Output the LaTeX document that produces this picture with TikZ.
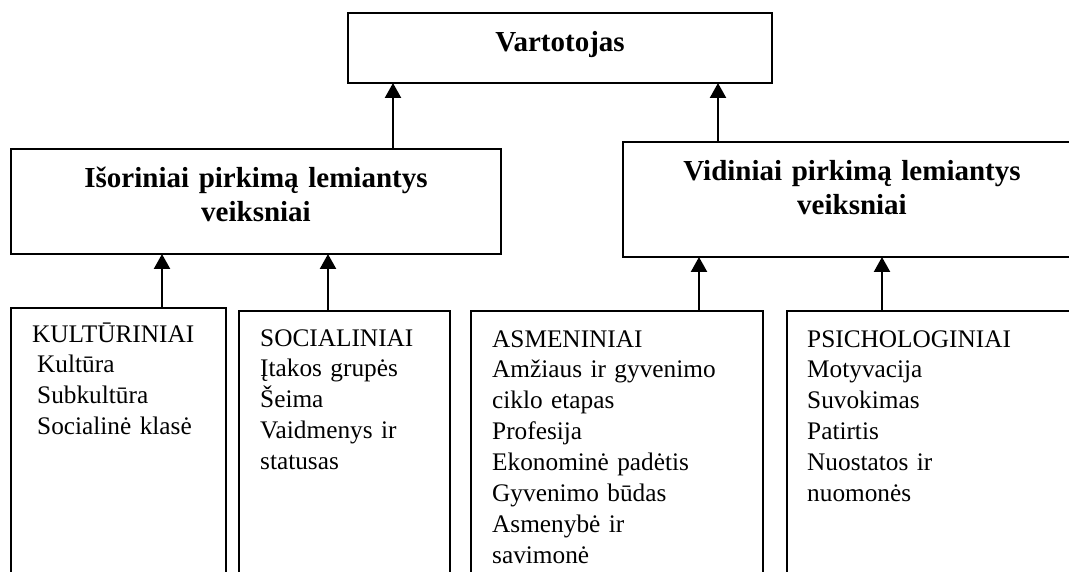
\documentclass[tikz,border=0pt]{standalone}
\usepackage{fontspec}
\setmainfont{Liberation Serif}
\usetikzlibrary{arrows.meta}
\tikzset{
  box/.style={draw, line width=2pt, rectangle, inner sep=0pt, outer sep=0pt, anchor=north west},
  hdr/.style={font=\fontsize{29}{34}\selectfont\bfseries, align=center, inner sep=0pt, anchor=base, text width=460pt},
  lst/.style={font=\fontsize{25.3}{30.9}\selectfont, align=left, inner sep=0pt, anchor=base west, text width=270pt},
  arr/.style={line width=2.3pt, -{Triangle[width=16pt,length=15pt]}},
}
\begin{document}
\begin{tikzpicture}[x=1pt,y=-1pt]
\clip (0,0) rectangle (1069,572);
% boxes
\node[box, minimum width=424pt, minimum height=70pt] (vart) at (348,13) {};
\node[box, minimum width=490pt, minimum height=105pt] (isor) at (11,149) {};
\node[box, minimum width=500pt, minimum height=115pt] (vid) at (623,142) {};
\node[box, minimum width=215pt, minimum height=300pt] (kult) at (11,308) {};
\node[box, minimum width=211pt, minimum height=300pt] (soc) at (239,311) {};
\node[box, minimum width=292pt, minimum height=300pt] (asm) at (471,311) {};
\node[box, minimum width=320pt, minimum height=300pt] (psi) at (787,311) {};
% texts
\node[hdr] (vartT) at ([yshift=-39pt]vart.north) {Vartotojas};
\node[hdr] (isorT) at ([yshift=-39pt]isor.north) {Išoriniai pirkimą lemiantys\\veiksniai};
\node[hdr] (vidT) at ([xshift=229pt,yshift=-39pt]vid.north west) {Vidiniai pirkimą lemiantys\\veiksniai};
\node[lst] (kultT) at ([xshift=21pt,yshift=-34pt]kult.north west)
  {KULTŪRINIAI\\\hspace*{5pt}Kultūra\\\hspace*{5pt}Subkultūra\\\hspace*{5pt}Socialinė klasė};
\node[lst] (socT) at ([xshift=21pt,yshift=-35pt]soc.north west)
  {SOCIALINIAI\\Įtakos grupės\\Šeima\\Vaidmenys ir\\statusas};
\node[lst] (asmT) at ([xshift=21pt,yshift=-36pt]asm.north west)
  {ASMENINIAI\\Amžiaus ir gyvenimo\\ciklo etapas\\Profesija\\Ekonominė padėtis\\Gyvenimo būdas\\Asmenybė ir\\savimonė};
\node[lst] (psiT) at ([xshift=20pt,yshift=-36pt]psi.north west)
  {PSICHOLOGINIAI\\Motyvacija\\Suvokimas\\Patirtis\\Nuostatos ir\\nuomonės};
% connectors
\draw[arr] ([xshift=43.5pt]kult.north) -- ([xshift=43.5pt]kult.north |- isor.south);
\draw[arr] ([xshift=-16.5pt]soc.north) -- ([xshift=-16.5pt]soc.north |- isor.south);
\draw[arr] ([xshift=82pt]asm.north) -- ([xshift=82pt]asm.north |- vid.south);
\draw[arr] ([xshift=-65pt]psi.north) -- ([xshift=-65pt]psi.north |- vid.south);
\draw[arr] ([xshift=137pt]isor.north) -- ([xshift=137pt]isor.north |- vart.south);
\draw[arr] ([xshift=95pt]vid.north west) -- ([xshift=95pt]vid.north west |- vart.south);
\end{tikzpicture}
\end{document}
